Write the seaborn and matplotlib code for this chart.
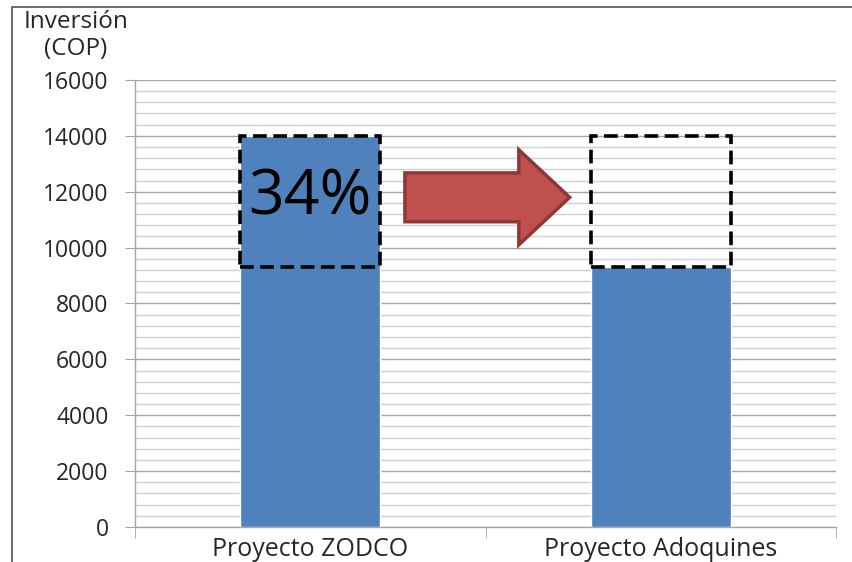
import matplotlib
matplotlib.use("Agg")
import matplotlib.pyplot as plt
import seaborn as sns
import pandas as pd
from matplotlib.patches import FancyArrow, Rectangle
from matplotlib.ticker import MultipleLocator, FixedLocator

# --- Data ---
categories = ["Proyecto ZODCO", "Proyecto Adoquines"]
inversion = [14000, 9300]
ahorro_desde = 9300
ahorro_hasta = 14000
ahorro_pct = "34%"

df = pd.DataFrame({"Proyecto": categories, "Inversion": inversion})

sns.set_style("white")
plt.rcParams["font.family"] = ["Open Sans", "DejaVu Sans"]

fig = plt.figure(figsize=(8.53, 5.62), dpi=100)
ax = fig.add_axes([0.1583, 0.0623, 0.8218, 0.7954])

sns.barplot(data=df, x="Proyecto", y="Inversion", color="#4F81BD",
            saturation=1, width=0.4, ax=ax, zorder=3)

# Dashed boxes marking the savings band on both bars
for i in range(len(categories)):
    ax.add_patch(Rectangle((i - 0.2, ahorro_desde), 0.4, ahorro_hasta - ahorro_desde,
                           fill=False, edgecolor="black", linewidth=2.6,
                           linestyle=(0, (3.8, 1.8)), zorder=5))

ax.text(0, (ahorro_desde + ahorro_hasta) / 2 + 100, ahorro_pct, ha="center", va="center",
        fontsize=45, color="black", zorder=6)

# Red arrow between bars
ax.add_patch(FancyArrow(0.27, 11800, 0.47, 0, width=1750, head_width=3400,
                        head_length=0.145, length_includes_head=True,
                        facecolor="#C0504D", edgecolor="#8C3836", linewidth=2.5, zorder=6))

ax.set_xlim(-0.5, 1.5)
ax.set_ylim(0, 16000)
ax.yaxis.set_major_locator(MultipleLocator(2000))
ax.yaxis.set_minor_locator(MultipleLocator(400))
ax.grid(which="major", axis="y", color="#A6A6A6", linewidth=1, zorder=0)
ax.grid(which="minor", axis="y", color="#D0D0D0", linewidth=1, zorder=0)
ax.set_axisbelow(True)

ax.xaxis.set_minor_locator(FixedLocator([-0.5, 0.5, 1.5]))
ax.tick_params(axis="x", which="major", length=0, labelsize=18, pad=7)
ax.tick_params(axis="x", which="minor", length=8, color="#A6A6A6", direction="out", bottom=True)
ax.tick_params(axis="y", which="major", length=7, color="#A6A6A6", direction="out",
               labelsize=16.5, pad=12, left=True)
ax.tick_params(axis="y", which="minor", length=0)

for s in ["top", "right"]:
    ax.spines[s].set_visible(False)
for s in ["left", "bottom"]:
    ax.spines[s].set_color("#A6A6A6")
    ax.spines[s].set_linewidth(1)

ax.set_xlabel("")
ax.set_ylabel("")
fig.text(0.089, 0.983, "Inversión\n(COP)", ha="center", va="top", fontsize=17.5,
         linespacing=1.2)

# Outer frame of the figure
fig.patches.append(Rectangle((12 / 853, -0.1), 1.2, 1.1 - 7 / 562,
                             transform=fig.transFigure, fill=False,
                             edgecolor="#555555", linewidth=1.2))

fig.savefig("out.png", dpi=100)
